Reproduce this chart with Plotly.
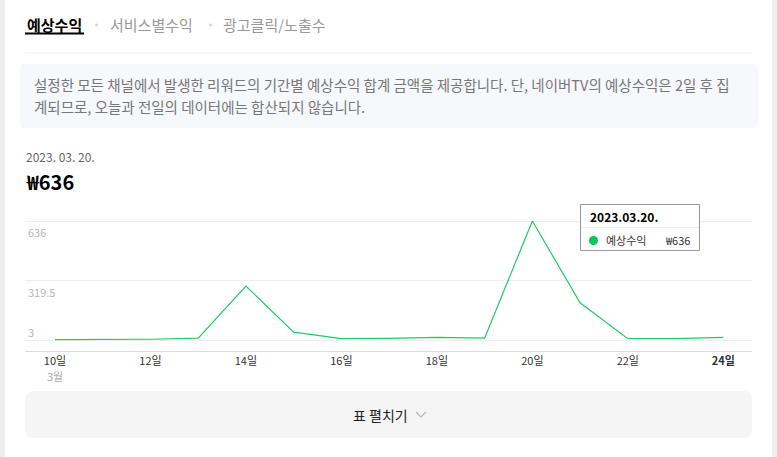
import plotly.graph_objects as go

W, H = 777, 457
FONT = "Noto Sans CJK KR"

# ---- data ----
days = [10, 11, 12, 13, 14, 15, 16, 17, 18, 19, 20, 21, 22, 23, 24]
revenue = [5, 5, 7, 13, 290, 45, 10, 12, 17, 13, 636, 201, 10, 10, 17]
tick_days = [10, 12, 14, 16, 18, 20, 22, 24]
tick_labels = ["10일", "12일", "14일", "16일", "18일", "20일", "22일", "<b>24일</b>"]
y_ticks = [3, 319.5, 636]
y_tick_labels = ["3", "319.5", "636"]
tabs = ["예상수익", "서비스별수익", "광고클릭/노출수"]
info_line1 = "설정한 모든 채널에서 발생한 리워드의 기간별 예상수익 합계 금액을 제공합니다. 단, 네이버TV의 예상수익은 2일 후 집"
info_line2 = "계되므로, 오늘과 전일의 데이터에는 합산되지 않습니다."
sel_date = "2023. 03. 20."
sel_value = "₩636"
tip_title = "2023.03.20."
series_name = "예상수익"
tip_value = "₩636"

def px(x):
    return x / W

def py(y):
    return 1 - y / H

# axis mapping
upp = 633 / 119.0  # units per pixel
x_lo = 10 - 30 / 47.74
x_hi = 24 + (752 - 723.3) / 47.74
y_lo = 3 - 11 * upp
y_hi = 636 + 6 * upp

fig = go.Figure()
fig.add_trace(go.Scatter(
    x=days, y=revenue, mode="lines",
    line=dict(color="#1fcb66", width=1.2),
    hoverinfo="skip", showlegend=False,
))

shapes = []
# side strips
shapes.append(dict(type="rect", xref="paper", yref="paper", x0=px(0), x1=px(5), y0=0, y1=1,
                   fillcolor="#eeeeee", line=dict(width=0), layer="below"))
shapes.append(dict(type="rect", xref="paper", yref="paper", x0=px(772), x1=px(777), y0=0, y1=1,
                   fillcolor="#eeeeee", line=dict(width=0), layer="below"))
# tab underline
shapes.append(dict(type="line", xref="paper", yref="paper", x0=px(25), x1=px(84), y0=py(33.5), y1=py(33.5),
                   line=dict(color="#000000", width=2)))
# tab dots
for cx in [96.5, 210.5]:
    shapes.append(dict(type="circle", xref="paper", yref="paper", x0=px(cx - 1.6), x1=px(cx + 1.6),
                       y0=py(26.6), y1=py(23.4), fillcolor="#d6d6d6", line=dict(width=0)))
# separator under tabs
shapes.append(dict(type="line", xref="paper", yref="paper", x0=px(25), x1=px(752), y0=py(53), y1=py(53),
                   line=dict(color="#eeeeee", width=1)))

def rounded(x0, y0, x1, y1, r):
    X = lambda v: px(v)
    Y = lambda v: py(v)
    return (f"M {X(x0 + r)} {Y(y0)} L {X(x1 - r)} {Y(y0)} Q {X(x1)} {Y(y0)} {X(x1)} {Y(y0 + r)} "
            f"L {X(x1)} {Y(y1 - r)} Q {X(x1)} {Y(y1)} {X(x1 - r)} {Y(y1)} "
            f"L {X(x0 + r)} {Y(y1)} Q {X(x0)} {Y(y1)} {X(x0)} {Y(y1 - r)} "
            f"L {X(x0)} {Y(y0 + r)} Q {X(x0)} {Y(y0)} {X(x0 + r)} {Y(y0)} Z")

# info box
shapes.append(dict(type="path", xref="paper", yref="paper", path=rounded(20, 64, 758, 128, 5),
                   fillcolor="#f6f8fc", line=dict(width=0), layer="below"))
# button box
shapes.append(dict(type="path", xref="paper", yref="paper", path=rounded(25, 391, 752, 438, 9),
                   fillcolor="#f5f5f5", line=dict(width=0), layer="below"))
# chevron
shapes.append(dict(type="path", xref="paper", yref="paper",
                   path=f"M {px(416)} {py(412)} L {px(421)} {py(417)} L {px(426)} {py(412)}",
                   line=dict(color="#b5b5b5", width=1.2)))
# tooltip box
shapes.append(dict(type="rect", xref="paper", yref="paper", x0=px(580.5), x1=px(699.5), y0=py(204.5), y1=py(250.5),
                   fillcolor="#ffffff", line=dict(color="#999999", width=1)))
shapes.append(dict(type="line", xref="paper", yref="paper", x0=px(581), x1=px(699), y0=py(227.5), y1=py(227.5),
                   line=dict(color="#eeeeee", width=1)))
shapes.append(dict(type="circle", xref="paper", yref="paper", x0=px(589), x1=px(598), y0=py(245), y1=py(236),
                   fillcolor="#03c75a", line=dict(width=0)))

annotations = []
# tabs
tab_x = [25, 108, 221]
for i, (t, x) in enumerate(zip(tabs, tab_x)):
    annotations.append(dict(text=f"<b>{t}</b>" if i == 0 else t, xref="paper", yref="paper",
                            x=px(x), y=py(25), xanchor="left", yanchor="middle", showarrow=False,
                            font=dict(family=FONT, size=15, color="#000000" if i == 0 else "#999999")))
# info text (two lines)
for t, yy in [(info_line1, 85), (info_line2, 106)]:
    annotations.append(dict(text=t, xref="paper", yref="paper", x=px(32), y=py(yy),
                            xanchor="left", yanchor="middle", align="left", showarrow=False,
                            font=dict(family=FONT, size=14.5, color="#777777")))
# date & value
annotations.append(dict(text=sel_date, xref="paper", yref="paper", x=px(24), y=py(157),
                        xanchor="left", yanchor="middle", showarrow=False,
                        font=dict(family=FONT, size=12, color="#666666")))
annotations.append(dict(text=f"<b>{sel_value}</b>", xref="paper", yref="paper", x=px(24), y=py(181),
                        xanchor="left", yanchor="middle", showarrow=False,
                        font=dict(family=FONT, size=20, color="#000000")))
# y labels (pixel offsets from their gridlines as in the reference)
y_label_shift = [8, -11, -11]
for v, t, s in zip(y_ticks, y_tick_labels, y_label_shift):
    annotations.append(dict(text=t, xref="paper", yref="y", x=px(26), y=v,
                            xanchor="left", yanchor="middle", yshift=s, showarrow=False,
                            font=dict(family=FONT, size=11, color="#b5b5b5")))
# month label
annotations.append(dict(text="3월", xref="x", yref="paper", x=days[0], y=py(376),
                        xanchor="center", yanchor="middle", showarrow=False,
                        font=dict(family=FONT, size=11, color="#aaaaaa")))
# tooltip text
annotations.append(dict(text=f"<b>{tip_title}</b>", xref="paper", yref="paper", x=px(588), y=py(216.5),
                        xanchor="left", yanchor="middle", showarrow=False,
                        font=dict(family=FONT, size=12, color="#000000")))
annotations.append(dict(text=series_name, xref="paper", yref="paper", x=px(604), y=py(239.5),
                        xanchor="left", yanchor="middle", showarrow=False,
                        font=dict(family=FONT, size=11, color="#333333")))
annotations.append(dict(text=tip_value, xref="paper", yref="paper", x=px(692), y=py(239.5),
                        xanchor="right", yanchor="middle", showarrow=False,
                        font=dict(family=FONT, size=11, color="#333333")))
# button text
annotations.append(dict(text="표 펼치기", xref="paper", yref="paper", x=px(410), y=py(414.5),
                        xanchor="right", yanchor="middle", showarrow=False,
                        font=dict(family=FONT, size=14, color="#222222")))

fig.update_layout(
    width=W, height=H,
    margin=dict(l=0, r=0, t=0, b=0),
    paper_bgcolor="#ffffff", plot_bgcolor="rgba(0,0,0,0)",
    shapes=shapes, annotations=annotations,
    hovermode=False, showlegend=False,
    font=dict(family=FONT),
    xaxis=dict(domain=[px(25), px(752)], range=[x_lo, x_hi],
               tickvals=tick_days, ticktext=tick_labels, ticks="",
               showgrid=False, zeroline=False, showline=True, linecolor="#dddddd", linewidth=1,
               tickfont=dict(family=FONT, size=11, color="#333333"), fixedrange=True),
    yaxis=dict(domain=[py(351), py(215)], range=[y_lo, y_hi],
               tickvals=y_ticks, showticklabels=False, ticks="",
               showgrid=True, gridcolor="#eeeeee", gridwidth=1, zeroline=False, showline=False,
               fixedrange=True),
)

fig.write_html("out.html", config={"displayModeBar": False},
               post_script="document.body.style.margin='0';document.body.style.overflow='hidden';")
